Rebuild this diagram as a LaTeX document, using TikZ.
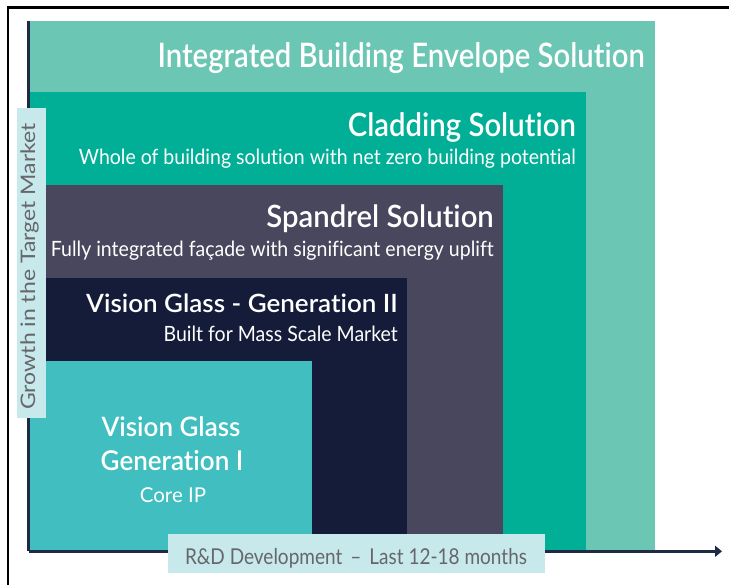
\documentclass[tikz,border=0pt]{standalone}
\usepackage{fontspec}
\setmainfont{Lato}[Ligatures=NoCommon, BoldFont={Lato Semibold}]
\usetikzlibrary{arrows.meta}
\definecolor{cInt}{HTML}{6CC6B4}
\definecolor{cClad}{HTML}{00AF96}
\definecolor{cSpan}{HTML}{48475D}
\definecolor{cVGtwo}{HTML}{141C3A}
\definecolor{cVGone}{HTML}{40BEC0}
\definecolor{cLab}{HTML}{C7E9EB}
\definecolor{cAxis}{HTML}{1F2A44}
\definecolor{cLabText}{HTML}{66666B}
\newcommand{\vst}[2]{\scalebox{1}[#1]{#2}}
\begin{document}
\begin{tikzpicture}[x=1pt,y=-1pt,
  ttl/.style={text=white, font=\fontsize{29.3}{32}\selectfont\bfseries, inner sep=0pt},
  ttlsm/.style={text=white, font=\fontsize{26}{30}\selectfont\bfseries, inner sep=0pt},
  sub/.style={text=white, font=\fontsize{19.5}{22}\selectfont, inner sep=0pt},
  labtxt/.style={text=cLabText, font=\fontsize{19}{22}\selectfont, inner sep=0pt}]
\useasboundingbox (0,0) rectangle (729,585);
\fill[white] (0,0) rectangle (729,585);
\draw[line width=2.6pt] (7.8,585) -- (7.8,7.8) -- (729,7.8);
% tiers
\fill[cInt] (29,21) rectangle (655,551);
\fill[cClad] (29,92) rectangle (586,551);
\fill[cSpan] (29,185) rectangle (503,551);
\fill[cVGtwo] (29,278) rectangle (407,551);
\fill[cVGone] (29,361) rectangle (312,551);
\node[ttl, anchor=base east] (tInt) at (645,68) {\vst{1.15}{Integrated Building Envelope Solution}};
\node[ttl, anchor=base east] (tClad) at (576,136.5) {\vst{1.1}{Cladding Solution}};
\node[sub, anchor=base east] (sClad) at (576,165) {\vst{1.08}{Whole of building solution with net zero building potential}};
\node[ttl, anchor=base east] (tSpan) at (494,227.5) {\vst{1.05}{Spandrel Solution}};
\node[sub, anchor=base east] (sSpan) at (494,257) {\vst{1.08}{Fully integrated façade with significant energy uplift}};
\node[ttlsm, anchor=base east] (tVGtwo) at (398,313) {\vst{0.97}{Vision Glass - Generation II}};
\node[sub, anchor=base east] (sVGtwo) at (398,342) {\vst{1.08}{Built for Mass Scale Market}};
\node[ttlsm, anchor=base] (tVGa) at (171,437) {\vst{1.03}{Vision Glass}};
\node[ttlsm, anchor=base] (tVGb) at (172,470.5) {\vst{1.05}{Generation I}};
\node[sub, font=\fontsize{20.5}{24}\selectfont, anchor=base] (sVGone) at (173,502) {Core IP};
% axes
\coordinate (o) at (28.7,551.3);
\coordinate (ytop) at (28.7,21);
\coordinate (xend) at (722,551.3);
\draw[cAxis, line width=2.6pt] (ytop) -- (o);
\draw[cAxis, line width=2.6pt, -{Triangle[length=7pt,width=11pt]}] (o) -- (xend);
% axis labels
\fill[cLab] (168,534) rectangle (545,573);
\node[labtxt, anchor=base] (xl) at (356,564) {\vst{1.15}{R\&D Development \,–\, Last 12-18 months}};
\fill[cLab] (17,108) rectangle (46,418);
\node[labtxt, font=\fontsize{20}{24}\selectfont, rotate=90, anchor=base] (yl) at (35,266.5) {\scalebox{1.15}[1]{Growth in the Target Market}};
\end{tikzpicture}
\end{document}
